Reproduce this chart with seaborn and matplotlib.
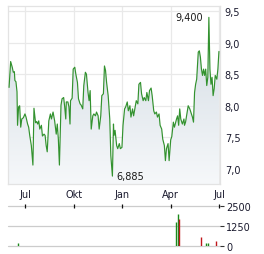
import numpy as np
import pandas as pd
import matplotlib
matplotlib.use("Agg")
import matplotlib.pyplot as plt
import matplotlib.dates as mdates
import seaborn as sns
from matplotlib.colors import LinearSegmentedColormap

dates = [
    "2023-06-01", "2023-06-04", "2023-06-07", "2023-06-09", "2023-06-11", "2023-06-12", "2023-06-14", "2023-06-16",
    "2023-06-17", "2023-06-19", "2023-06-21", "2023-06-23", "2023-06-25", "2023-06-28", "2023-07-01", "2023-07-03",
    "2023-07-06", "2023-07-08", "2023-07-10", "2023-07-13", "2023-07-16", "2023-07-18", "2023-07-21", "2023-07-23",
    "2023-07-25", "2023-07-27", "2023-07-29", "2023-08-01", "2023-08-03", "2023-08-06", "2023-08-08", "2023-08-10",
    "2023-08-12", "2023-08-15", "2023-08-18", "2023-08-20", "2023-08-23", "2023-08-26", "2023-08-29", "2023-08-31",
    "2023-09-02", "2023-09-04", "2023-09-07", "2023-09-09", "2023-09-12", "2023-09-14", "2023-09-16", "2023-09-17",
    "2023-09-20", "2023-09-22", "2023-09-24", "2023-09-25", "2023-09-28", "2023-09-30", "2023-10-03", "2023-10-05",
    "2023-10-08", "2023-10-10", "2023-10-13", "2023-10-15", "2023-10-18", "2023-10-20", "2023-10-23", "2023-10-25",
    "2023-10-28", "2023-10-30", "2023-11-01", "2023-11-03", "2023-11-06", "2023-11-08", "2023-11-11", "2023-11-13",
    "2023-11-16", "2023-11-18", "2023-11-21", "2023-11-23", "2023-11-26", "2023-11-28", "2023-11-30", "2023-12-02",
    "2023-12-05", "2023-12-07", "2023-12-08", "2023-12-10", "2023-12-12", "2023-12-13", "2023-12-15", "2023-12-16",
    "2023-12-18", "2023-12-21", "2023-12-23", "2023-12-26", "2023-12-28", "2023-12-31", "2024-01-02", "2024-01-05",
    "2024-01-07", "2024-01-10", "2024-01-12", "2024-01-15", "2024-01-17", "2024-01-20", "2024-01-22", "2024-01-25",
    "2024-01-27", "2024-01-30", "2024-02-01", "2024-02-04", "2024-02-06", "2024-02-09", "2024-02-11", "2024-02-14",
    "2024-02-16", "2024-02-19", "2024-02-21", "2024-02-24", "2024-02-26", "2024-02-29", "2024-03-02", "2024-03-05",
    "2024-03-07", "2024-03-10", "2024-03-12", "2024-03-15", "2024-03-17", "2024-03-20", "2024-03-22", "2024-03-24",
    "2024-03-27", "2024-03-29", "2024-04-01", "2024-04-03", "2024-04-06", "2024-04-08", "2024-04-12", "2024-04-14",
    "2024-04-16", "2024-04-18", "2024-04-20", "2024-04-23", "2024-04-26", "2024-04-27", "2024-04-29", "2024-05-02",
    "2024-05-04", "2024-05-07", "2024-05-09", "2024-05-12", "2024-05-14", "2024-05-16", "2024-05-18", "2024-05-20",
    "2024-05-23", "2024-05-25", "2024-05-27", "2024-05-29", "2024-05-31", "2024-06-02", "2024-06-04", "2024-06-06",
    "2024-06-08", "2024-06-10", "2024-06-12", "2024-06-14", "2024-06-16", "2024-06-18", "2024-06-20", "2024-06-22",
    "2024-06-24", "2024-06-27", "2024-06-29", "2024-07-01",
]
prices = [
    8.29, 8.70, 8.61, 8.53, 8.54, 8.40, 8.38, 8.22,
    7.69, 7.98, 8.00, 7.66, 7.79, 7.81, 7.87, 7.82,
    7.71, 7.66, 7.53, 7.37, 7.06, 7.96, 7.73, 7.75,
    7.71, 7.76, 7.63, 7.69, 7.52, 7.55, 7.53, 7.37,
    7.27, 7.76, 7.87, 7.79, 7.90, 7.76, 7.55, 7.71,
    7.47, 7.06, 8.01, 8.11, 8.13, 7.98, 7.79, 8.06,
    8.06, 7.98, 7.71, 8.08, 8.12, 8.58, 8.61, 8.50,
    8.37, 8.11, 8.03, 8.01, 7.95, 8.32, 8.53, 8.50,
    8.21, 8.08, 8.24, 7.63, 7.84, 7.87, 7.84, 7.90,
    7.84, 7.63, 7.84, 8.16, 8.19, 8.63, 8.56, 8.37,
    8.16, 7.90, 7.79, 7.21, 7.00, 6.885, 7.71, 7.53,
    7.61, 7.37, 7.32, 7.40, 7.32, 7.34, 7.69, 7.95,
    7.98, 8.06, 7.92, 8.00, 7.82, 7.95, 7.84, 7.98,
    8.08, 8.03, 8.34, 8.37, 8.19, 8.08, 8.13, 8.08,
    8.21, 8.08, 8.24, 8.28, 8.16, 7.92, 7.87, 7.90,
    7.82, 7.87, 7.69, 7.63, 7.47, 7.37, 7.13, 7.32,
    7.40, 7.13, 7.46, 7.51, 7.74, 7.66, 7.79, 7.84,
    7.69, 7.95, 7.79, 7.71, 7.79, 7.69, 7.74, 7.90,
    8.00, 7.95, 7.90, 7.82, 7.74, 8.21, 8.34, 8.42,
    8.85, 8.87, 8.77, 8.58, 8.48, 8.58, 8.48, 8.58,
    8.32, 8.45, 9.40, 8.58, 8.34, 8.45, 8.16, 8.27,
    8.48, 8.42, 8.58, 8.86,
]

vol_dates = ["2023-06-18", "2024-04-11", "2024-04-14", "2024-04-17", "2024-05-28", "2024-06-06", "2024-06-11", "2024-06-26"]
vol_values = [200, 1500, 2020, 1700, 560, 200, 200, 330]
vol_up = [True, True, True, False, False, True, True, False]

month_ticks = ["2023-07-01", "2023-10-01", "2024-01-01", "2024-04-01", "2024-07-01"]
month_labels = ["Jul", "Okt", "Jan", "Apr", "Jul"]
price_ticks = [7.0, 7.5, 8.0, 8.5, 9.0, 9.5]
vol_ticks = [0, 1250, 2500]

df = pd.DataFrame({"date": pd.to_datetime(dates), "price": prices})
vdf = pd.DataFrame({"date": pd.to_datetime(vol_dates), "volume": vol_values, "up": vol_up})

sns.set_theme(style="white")
plt.rcParams["font.family"] = ["DejaVu Sans"]

W, H = 264, 255
fig = plt.figure(figsize=(W / 100, H / 100), dpi=100)
fig.patch.set_facecolor("white")

x0 = mdates.date2num(pd.Timestamp("2023-05-30"))
x1 = mdates.date2num(pd.Timestamp("2024-07-03"))
ylo, yhi = 6.76, 9.58

ax = fig.add_axes([8 / W, 1 - 185 / H, 212 / W, 178 / H])
ax.set_facecolor("white")
sns.lineplot(data=df, x="date", y="price", ax=ax, color="#33922f", linewidth=0.85, zorder=4)

# gradient fill under the line
poly = ax.fill_between(df["date"], df["price"], ylo, color="none", linewidth=0)
cmap = LinearSegmentedColormap.from_list("g", ["#f6f8fa", "#d2dbe3"])
grad = np.linspace(0, 1, 256).reshape(-1, 1)
im = ax.imshow(grad, extent=[x0, x1, ylo, 9.4], origin="lower", aspect="auto",
               cmap=cmap, zorder=2, interpolation="bilinear")
im.set_clip_path(poly.get_paths()[0], transform=ax.transData)

ax.set_xlim(x0, x1)
ax.set_ylim(ylo, yhi)
ax.set_xticks(mdates.date2num(pd.to_datetime(month_ticks)))
ax.set_xticklabels(month_labels)
ax.set_yticks(price_ticks)
ax.set_yticklabels([f"{v:.1f}".replace(".", ",") for v in price_ticks])
ax.yaxis.tick_right()
ax.tick_params(axis="y", length=0, pad=3.5, labelsize=7, labelcolor="#1a1a2e")
ax.tick_params(axis="x", length=0, pad=3.5, labelsize=7, labelcolor="#1a1a2e")
ax.grid(True, color="#e9e9e9", linewidth=0.9, zorder=0)
ax.set_axisbelow(True)
for s in ax.spines.values():
    s.set_color("#e3e3e3")
    s.set_linewidth(0.9)
ax.set_xlabel("")
ax.set_ylabel("")

imax = df["price"].idxmax()
imin = df["price"].idxmin()
ax.annotate(f"{df.loc[imax, 'price']:.3f}".replace(".", ","),
            xy=(mdates.date2num(df.loc[imax, "date"]), df.loc[imax, "price"]),
            xytext=(-4.5, 0.5), textcoords="offset points", ha="right", va="center",
            fontsize=7, color="#1a1a1a", zorder=6)
ax.annotate(f"{df.loc[imin, 'price']:.3f}".replace(".", ","),
            xy=(mdates.date2num(df.loc[imin, "date"]), df.loc[imin, "price"]),
            xytext=(3, 0), textcoords="offset points", ha="left", va="center",
            fontsize=7, color="#1a1a1a", zorder=6)

# volume panel
vax = fig.add_axes([8 / W, 1 - 247.3 / H, 212 / W, 40 / H])
vax.set_facecolor("none")
for yv in vol_ticks:
    vax.axhline(yv, color="#cccccc", linewidth=0.9, clip_on=False, zorder=0)
for d, v, up in zip(vdf["date"], vdf["volume"], vdf["up"]):
    vax.vlines(mdates.date2num(d), 0, v, color="#1a8a1a" if up else "#c0161b", linewidth=1.0, zorder=3)
vax.set_xlim(x0, x1)
vax.set_ylim(0, 2500)
vax.set_yticks(vol_ticks)
vax.set_yticklabels([str(v) for v in vol_ticks])
vax.yaxis.tick_right()
vax.tick_params(axis="y", length=3, width=0.8, color="#333333", pad=1.5, labelsize=7, labelcolor="#1a1a2e")
vax.set_xticks(mdates.date2num(pd.to_datetime(month_ticks)))
vax.xaxis.tick_top()
vax.tick_params(axis="x", direction="inout", length=3, width=0.9, color="#111111", labeltop=False, labelbottom=False)
for s in vax.spines.values():
    s.set_visible(False)

fig.savefig("out.png", dpi=100, facecolor="white")
